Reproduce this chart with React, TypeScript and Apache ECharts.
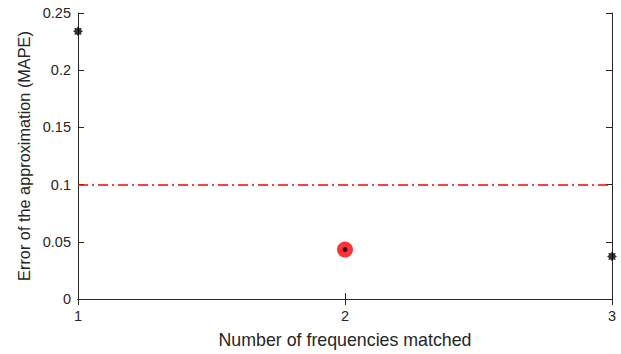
import React, { useEffect, useRef } from "react";
import * as echarts from "echarts";

const xValues = [1, 2, 3];
const errorValues = [0.234, 0.0432, 0.0372];
const highlighted = [[2, 0.0432]];
const threshold = 0.1;
const yTicks = [0, 0.05, 0.1, 0.15, 0.2, 0.25];

const star =
  "path://M0,-10 L2.6,-6.2 L7.1,-7.1 L6.2,-2.6 L10,0 L6.2,2.6 L7.1,7.1 L2.6,6.2 L0,10 L-2.6,6.2 L-7.1,7.1 L-6.2,2.6 L-10,0 L-6.2,-2.6 L-7.1,-7.1 L-2.6,-6.2 Z";

export default function App() {
  const ref = useRef<HTMLDivElement>(null);
  useEffect(() => {
    const chart = echarts.init(ref.current!, undefined, { renderer: "svg" });
    const font = "Liberation Sans, Arial, sans-serif";
    const axisLine = { show: true, lineStyle: { color: "#262626", width: 1 } };
    const tick = { show: true, inside: true, length: 6, lineStyle: { color: "#262626" } };
    chart.setOption({
      animation: false,
      backgroundColor: "#fff",
      grid: { left: 78, right: 9, top: 13, bottom: 52 },
      xAxis: [
        {
          type: "value",
          min: 1,
          max: 3,
          interval: 1,
          name: "Number of frequencies matched",
          nameLocation: "middle",
          nameGap: 32,
          nameTextStyle: { fontFamily: font, fontSize: 17.8, color: "#262626" },
          axisLine,
          axisTick: tick,
          axisLabel: { fontFamily: font, fontSize: 14.5, color: "#262626", margin: 9 },
          splitLine: { show: false },
        },
        {
          type: "value",
          position: "top",
          min: 1,
          max: 3,
          interval: 1,
          axisLine,
          axisTick: tick,
          axisLabel: { show: false },
          splitLine: { show: false },
        },
      ],
      yAxis: [
        {
          type: "value",
          min: 0,
          max: 0.25,
          interval: 0.05,
          name: "Error of the approximation (MAPE)",
          nameLocation: "middle",
          nameGap: 46,
          nameTextStyle: { fontFamily: font, fontSize: 16.3, color: "#262626" },
          axisLine,
          axisTick: tick,
          axisLabel: {
            fontFamily: font,
            fontSize: 14.5,
            color: "#262626",
            margin: 7,
            formatter: (v: number) => {
              const t = yTicks.find((y) => Math.abs(y - v) < 1e-9);
              return t === undefined ? "" : String(t);
            },
          },
          splitLine: { show: false },
        },
        {
          type: "value",
          position: "right",
          min: 0,
          max: 0.25,
          interval: 0.05,
          axisLine,
          axisTick: tick,
          axisLabel: { show: false },
          splitLine: { show: false },
        },
      ],
      series: [
        {
          type: "scatter",
          data: highlighted,
          symbol: "circle",
          symbolSize: 16,
          itemStyle: { color: "#ff0000" },
          z: 2,
        },
        {
          type: "scatter",
          data: xValues.map((x, i) => [x, errorValues[i]]),
          symbol: star,
          symbolSize: (_v: any, p: any) => (p.dataIndex === 1 ? 6 : 10),
          itemStyle: { color: "#000" },
          z: 3,
          markLine: {
            silent: true,
            symbol: "none",
            label: { show: false },
            lineStyle: { color: "#ff0000", width: 1.5, type: [10, 4, 2, 4] },
            data: [{ yAxis: threshold }],
          },
        },
      ],
    });
    return () => chart.dispose();
  }, []);
  return <div ref={ref} style={{ width: 621, height: 354, position: "absolute", left: 0, top: 0 }} />;
}
